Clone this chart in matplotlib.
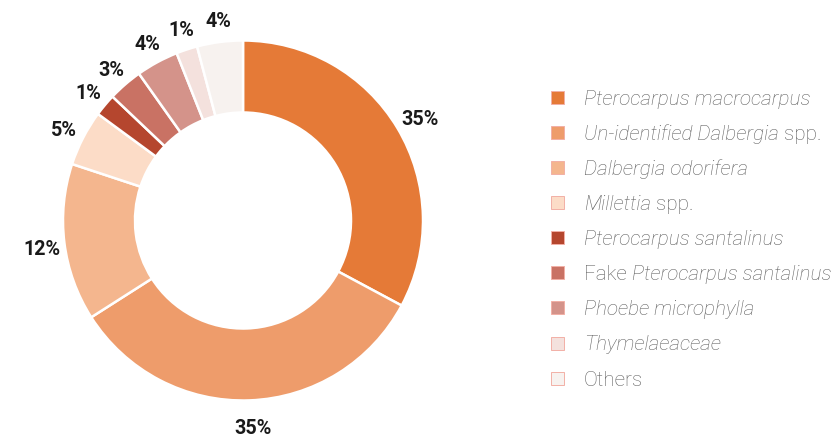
import matplotlib
matplotlib.use("Agg")
import matplotlib.pyplot as plt
from matplotlib.patches import Rectangle
from matplotlib.transforms import offset_copy
import numpy as np

plt.rcParams['font.family'] = ['Roboto', 'DejaVu Sans']

# ---- data ----
categories = [
    [("Pterocarpus macrocarpus", True)],
    [("Un-identified Dalbergia", True), (" spp.", False)],
    [("Dalbergia odorifera", True)],
    [("Millettia", True), (" spp.", False)],
    [("Pterocarpus santalinus", True)],
    [("Fake ", False), ("Pterocarpus santalinus", True)],
    [("Phoebe microphylla", True)],
    [("Thymelaeaceae", True)],
    [("Others", False)],
]
shares = [32.8, 33.1, 14.1, 5.0, 2.0, 3.1, 3.8, 1.9, 4.1]
pct_labels = ["35%", "35%", "12%", "5%", "1%", "3%", "4%", "1%", "4%"]
colors = ["#E57A37", "#EE9C6B", "#F4B68E", "#FCDCC7", "#B5462E",
          "#C97264", "#D4938A", "#F4E1DD", "#F7F2EF"]

W, H = 837, 438
fig = plt.figure(figsize=(W / 100, H / 100), dpi=100)
fig.patch.set_facecolor("white")

cx, cy, R = 243, 220.5, 180
half = 200
ax = fig.add_axes([(cx - half) / W, (H - cy - half) / H, 2 * half / W, 2 * half / H])

wedges, _ = ax.pie(shares, colors=colors, startangle=90, counterclock=False,
                   radius=1.0, wedgeprops=dict(width=0.4, edgecolor="white", linewidth=1.8))
ax.set_xlim(-half / R, half / R)
ax.set_ylim(-half / R, half / R)
ax.set_aspect("equal")
ax.axis("off")

label_tr = offset_copy(ax.transData, fig=fig, x=2, y=-4, units="dots")
for w, lab in zip(wedges, pct_labels):
    ang = np.deg2rad((w.theta1 + w.theta2) / 2)
    r = 1.135
    ax.text(r * np.cos(ang), r * np.sin(ang), lab, ha="center", va="center",
            fontsize=14.2, fontweight=600, color="#1a1a1a", clip_on=False,
            transform=label_tr)

# ---- legend ----
y0, dy = 97.3, 35.1
mx, msize = 551, 13
tx = 584
fig.canvas.draw()
renderer = fig.canvas.get_renderer()
for i, (segs, col) in enumerate(zip(categories, colors)):
    yc = y0 + i * dy
    fig.patches.append(Rectangle((mx / W, (H - yc - msize / 2) / H), msize / W, msize / H,
                                 transform=fig.transFigure, facecolor=col,
                                 edgecolor="#F2B0A6", linewidth=0.7, figure=fig))
    x = tx
    for text, ital in segs:
        t = fig.text(x / W, (H - yc) / H, text, ha="left", va="center_baseline",
                     fontsize=14.9, fontweight="light", color="#5e5e5e",
                     fontstyle="italic" if ital else "normal")
        bb = t.get_window_extent(renderer=renderer)
        x += bb.width

fig.savefig("out.png", dpi=100, facecolor="white")
